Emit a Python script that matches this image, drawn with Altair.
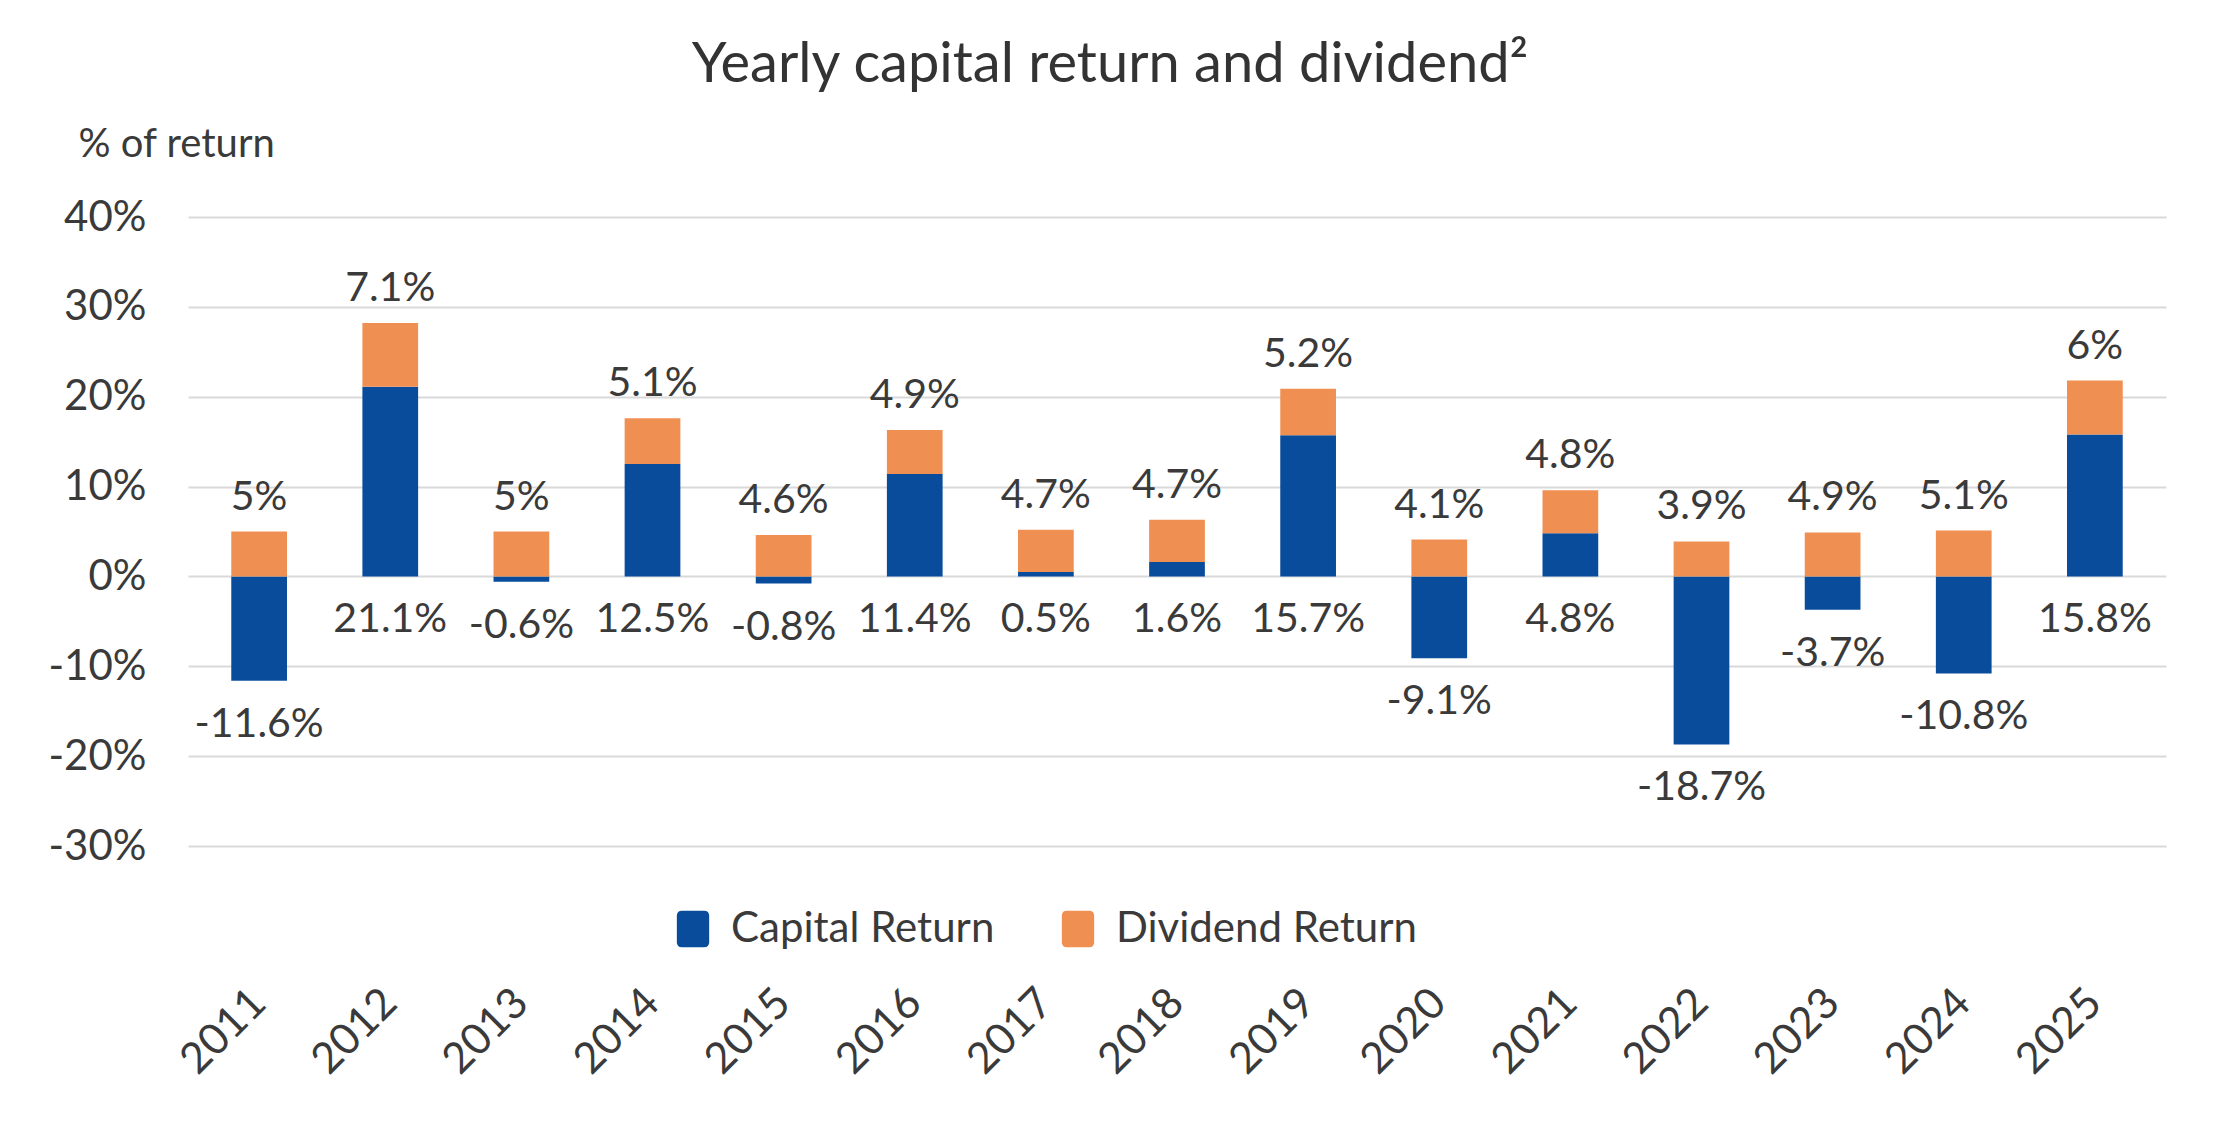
import altair as alt
import pandas as pd

# Yearly return split into capital and dividend components (in %)
years = [str(y) for y in range(2011, 2026)]
capital = [-11.6, 21.1, -0.6, 12.5, -0.8, 11.4, 0.5, 1.6, 15.7, -9.1, 4.8, -18.7, -3.7, -10.8, 15.8]
dividend = [5, 7.1, 5, 5.1, 4.6, 4.9, 4.7, 4.7, 5.2, 4.1, 4.8, 3.9, 4.9, 5.1, 6]
series = ["Capital Return", "Dividend Return"]
colors = ["#0A4C9C", "#F08F52"]
y_ticks = [-30, -20, -10, 0, 10, 20, 30, 40]

FONT = "Lato"
TEXT = "#3a3a3a"

long_df = pd.DataFrame({
    "year": years * 2,
    "series": [series[0]] * len(years) + [series[1]] * len(years),
    "value": capital + dividend,
    "stack_order": [0] * len(years) + [1] * len(years),
})
wide_df = pd.DataFrame({"year": years, "capital": capital, "dividend": dividend})

y_scale = alt.Scale(domain=[-30, 40], nice=False, zero=True)

x_enc = alt.X(
    "year:O",
    sort=years,
    scale=alt.Scale(paddingInner=0.575, paddingOuter=0.33),
    axis=alt.Axis(
        title=None, labelAngle=-45, labelAlign="right", labelBaseline="middle",
        labelPadding=150, ticks=False, domain=False,
        labelFontSize=43, labelFont=FONT, labelColor=TEXT,
    ),
)

y_axis = alt.Axis(
    values=y_ticks, labelExpr="datum.value + '%'", domain=False, ticks=False,
    labelPadding=42, labelFontSize=42, labelFont=FONT, labelColor=TEXT,
    gridColor="#D9D9D9", gridWidth=2,
    title="% of return", titleAngle=0, titleAlign="left", titleBaseline="alphabetic",
    titleX=-110, titleY=-61, titleFontSize=40, titleFont=FONT,
    titleFontWeight="normal", titleColor=TEXT,
)

rounded_square = (
    "M-0.6,-1 L0.6,-1 Q0.88,-1 0.88,-0.72 L0.88,0.72 Q0.88,1 0.6,1 "
    "L-0.6,1 Q-0.88,1 -0.88,0.72 L-0.88,-0.72 Q-0.88,-1 -0.6,-1 Z"
)

bars = alt.Chart(long_df).mark_bar().encode(
    x=x_enc,
    y=alt.Y("value:Q", stack="zero", scale=y_scale, axis=y_axis),
    color=alt.Color(
        "series:N",
        scale=alt.Scale(domain=series, range=colors),
        legend=alt.Legend(
            title=None, orient="none", legendX=484, legendY=691,
            direction="horizontal", symbolType=rounded_square, symbolSize=1350,
            symbolStrokeWidth=0, symbolOpacity=1, labelFontSize=42, labelLimit=0,
            labelFont=FONT, labelColor=TEXT, labelOffset=17, columnPadding=62,
        ),
    ),
    order=alt.Order("stack_order:Q"),
)

labels_base = alt.Chart(wide_df).transform_calculate(
    top="max(datum.capital, 0) + datum.dividend",
    bottom="min(datum.capital, 0)",
    cap_label="datum.capital + '%'",
    div_label="datum.dividend + '%'",
)

div_text = labels_base.mark_text(
    baseline="alphabetic", dy=-22, fontSize=41, font=FONT, color=TEXT
).encode(x=x_enc, y=alt.Y("top:Q", scale=y_scale, axis=y_axis), text="div_label:N")

cap_text = labels_base.mark_text(
    baseline="alphabetic", dy=56, fontSize=41, font=FONT, color=TEXT
).encode(x=x_enc, y=alt.Y("bottom:Q", scale=y_scale, axis=y_axis), text="cap_label:N")

chart = alt.layer(bars, div_text, cap_text).properties(
    width=1978,
    height=629,
    background="white",
    title=alt.TitleParams(
        "Yearly capital return and dividend²", fontSize=56, font=FONT,
        fontWeight="normal", color="#333333", anchor="middle", frame="group",
        dx=-67, dy=58, offset=44, baseline="alphabetic",
    ),
    autosize=alt.AutoSizeParams(type="none"),
    padding={"left": 188, "top": 217, "right": 54, "bottom": 288},
).configure_view(stroke=None)

chart.save("out.html", embed_options={"renderer": "svg", "actions": False})
